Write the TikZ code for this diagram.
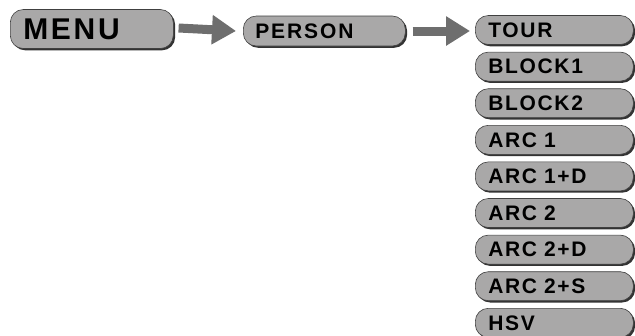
\documentclass[tikz,border=0pt]{standalone}
\usepackage{fontspec}
\setmainfont{Liberation Sans}
\newfontfamily\boxfont{Liberation Sans}[LetterSpace=9]
\newfontfamily\colfont{Liberation Sans}[LetterSpace=8]
\usetikzlibrary{arrows.meta,shadows}
\definecolor{boxgray}{HTML}{A9A8A8}
\definecolor{arrgray}{HTML}{6E6E6E}
\begin{document}
\begin{tikzpicture}[x=1pt,y=-1pt,
  pill/.style={rounded corners=13pt, fill=boxgray, draw=black!75, line width=0.6pt,
    anchor=west, inner ysep=0pt, align=left,
    drop shadow={shadow xshift=1.8pt, shadow yshift=-1.8pt, fill=black!80, opacity=1}},
  bigpill/.style={pill, minimum height=39pt, text width=137pt, inner xsep=13pt,
    font=\boxfont\bfseries\fontsize{30}{30}\selectfont},
  midpill/.style={pill, minimum height=30pt, text width=138pt, inner xsep=12pt,
    font=\boxfont\bfseries\fontsize{21}{21}\selectfont},
  colpill/.style={pill, minimum height=29pt, text width=132pt, inner xsep=13pt,
    font=\colfont\bfseries\fontsize{21}{21}\selectfont},
  bigarrow/.style={draw=arrgray, line width=9pt,
    -{Triangle[length=24pt,width=28pt,fill=arrgray]}}]
\useasboundingbox (0,0) rectangle (635,335);
\clip (0,0) rectangle (635,335);
\fill[white] (0,0) rectangle (635,335);

\node[bigpill] (menu) at (10,29) {MENU};
\node[midpill] (person) at (243,31) {PERSON};

\node[colpill] (c0) at (475,30) {TOUR};
\node[colpill] (c1) at (475,66.6) {BLOCK1};
\node[colpill] (c2) at (475,103.2) {BLOCK2};
\node[colpill] (c3) at (475,139.8) {ARC 1};
\node[colpill] (c4) at (475,176.4) {ARC 1+D};
\node[colpill] (c5) at (475,213) {ARC 2};
\node[colpill] (c6) at (475,249.6) {ARC 2+D};
\node[colpill] (c7) at (475,286.2) {ARC 2+S};
\node[colpill] (c8) at (475,322.8) {HSV};

\draw[bigarrow] ([xshift=5pt,yshift=1pt]menu.east) -- ([xshift=-7pt]person.west);
\draw[bigarrow] ([xshift=7pt]person.east) -- ([xshift=-5pt]c0.west |- person.west);
\end{tikzpicture}
\end{document}
